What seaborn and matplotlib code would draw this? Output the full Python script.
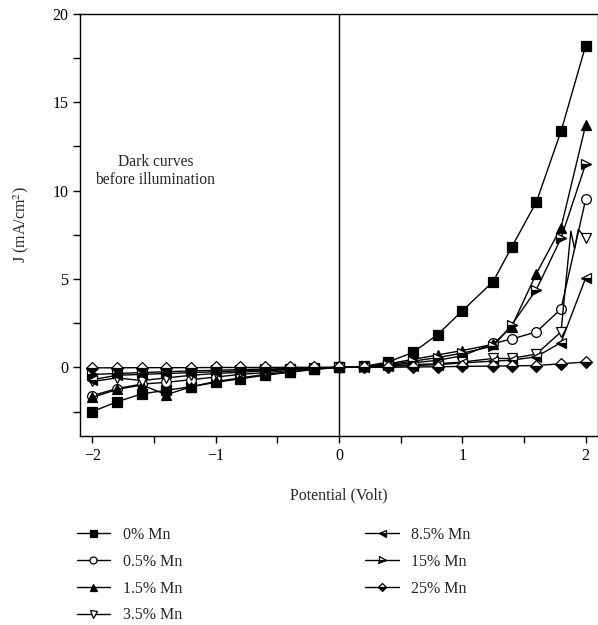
import matplotlib
matplotlib.use("Agg")
import matplotlib.pyplot as plt
import seaborn as sns
import numpy as np
from matplotlib.ticker import MultipleLocator

sns.set_theme(style="ticks")
plt.rcParams['font.family'] = ['Liberation Serif', 'DejaVu Serif']
plt.rcParams['mathtext.fontset'] = 'stix'

# ---- data ----
v_neg = [-2.0, -1.8, -1.6, -1.4, -1.2, -1.0, -0.8, -0.6, -0.4, -0.2]
v_pos = [0.0, 0.2, 0.4, 0.6, 0.8, 1.0, 1.25, 1.4, 1.6, 1.8, 2.0]
potential = v_neg + v_pos

j_0 = [-2.5, -1.95, -1.5, -1.3, -1.1, -0.85, -0.65, -0.45, -0.28, -0.12,
       0.0, 0.05, 0.3, 0.85, 1.85, 3.2, 4.85, 6.8, 9.35, 13.35, 18.2]
j_05 = [-1.6, -1.2, -0.95, -0.85, -0.7, -0.55, -0.4, -0.3, -0.18, -0.08,
        0.0, 0.03, 0.12, 0.25, 0.4, 0.65, 1.35, 1.6, 2.0, 3.3, 9.5]
j_15 = [-1.7, -1.25, -1.0, -1.55, -1.1, -0.8, -0.6, -0.4, -0.25, -0.1,
        0.0, 0.05, 0.2, 0.45, 0.7, 0.95, 1.3, 2.3, 5.3, 7.9, 13.7]
j_35 = [-0.8, -0.6, -0.75, -0.6, -0.45, -0.35, -0.28, -0.2, -0.12, -0.05,
        0.0, 0.02, 0.08, 0.15, 0.2, 0.3, 0.5, 0.5, 0.75, 2.0, 7.3]
j_85 = [-0.7, -0.45, -0.4, -0.35, -0.3, -0.25, -0.2, -0.15, -0.1, -0.05,
        0.0, 0.02, 0.05, 0.1, 0.15, 0.25, 0.35, 0.4, 0.6, 1.4, 5.05]
j_15b = [-0.4, -0.35, -0.3, -0.25, -0.2, -0.17, -0.13, -0.1, -0.07, -0.03,
         0.0, 0.03, 0.15, 0.35, 0.55, 0.8, 1.2, 2.4, 4.4, 7.3, 11.5]
j_25 = [-0.03, -0.03, -0.02, -0.02, -0.02, -0.01, -0.01, -0.01, 0.0, 0.0,
        0.0, 0.0, 0.0, 0.02, 0.03, 0.05, 0.07, 0.08, 0.1, 0.2, 0.3]

# extra unmarked wiggle on the 3.5% curve near 1.9 V
wiggle_v = [1.88, 1.91, 1.94]
wiggle_j = [7.7, 6.7, 7.8]

labels = ["0% Mn", "0.5% Mn", "1.5% Mn", "3.5% Mn", "8.5% Mn", "15% Mn", "25% Mn"]
series = [j_0, j_05, j_15, j_35, j_85, j_15b, j_25]
markers = ["s", "o", "^", "v", "<", ">", "D"]
fills = ["full", "none", "full", "none", "bottom", "bottom", "bottom"]

fig = plt.figure(figsize=(5.98, 6.25), dpi=100)
ax = fig.add_axes([0.134, 0.302, 0.866, 0.676])

for lab, jj, mk, fs in zip(labels, series, markers, fills):
    xs = list(potential)
    ys = list(jj)
    mevery = None
    if lab == "3.5% Mn":
        xs = xs[:-1] + wiggle_v + xs[-1:]
        ys = ys[:-1] + wiggle_j + ys[-1:]
        n = len(xs)
        mevery = [i for i in range(n) if i not in (n - 4, n - 3, n - 2)]
    kw = dict(color="black", lw=1.0, marker=mk, markersize=7 if mk != "D" else 6,
              markeredgecolor="black", markeredgewidth=0.9)
    if fs == "full":
        kw.update(markerfacecolor="black")
    elif fs == "none":
        kw.update(markerfacecolor="white")
    else:
        kw.update(fillstyle="bottom", markerfacecolor="black",
                  markerfacecoloralt="white")
    if mevery is not None:
        kw["markevery"] = mevery
    sns.lineplot(x=xs, y=ys, ax=ax, sort=False, estimator=None, label=lab, **kw)

if ax.get_legend():
    ax.get_legend().remove()
handles, labs = ax.get_legend_handles_labels()

ax.axvline(0, color="black", lw=1.0, zorder=0)

ax.set_xlim(-2.1, 2.1)
ax.set_ylim(-3.9, 20)
ax.set_xticks([-2, -1, 0, 1, 2])
ax.set_xticklabels(["\u22122", "\u22121", "0", "1", "2"])
ax.set_yticks([0, 5, 10, 15, 20])
ax.xaxis.set_minor_locator(MultipleLocator(0.5))
ax.yaxis.set_minor_locator(MultipleLocator(2.5))
ax.tick_params(which="both", direction="out", length=5, width=1, colors="black",
               labelsize=11.5)
for s in ax.spines.values():
    s.set_color("black")
    s.set_linewidth(1.0)

ax.set_xlabel("Potential (Volt)", fontsize=11.5, labelpad=17)
ax.set_ylabel("J (mA/cm$^2$)", fontsize=11.5, labelpad=15)

ax.text(-1.49, 11.1, "Dark curves\nbefore illumination", ha="center", va="center",
        fontsize=11.2, linespacing=1.2)

fig.legend(handles, labs, ncol=2, loc="upper left", bbox_to_anchor=(0.128, 0.157),
           frameon=False, fontsize=11.5, handlelength=2.1, handletextpad=0.8,
           columnspacing=11.45, labelspacing=0.68, borderaxespad=0, borderpad=0,
           markerscale=0.72)

fig.savefig("out.png", dpi=100)
